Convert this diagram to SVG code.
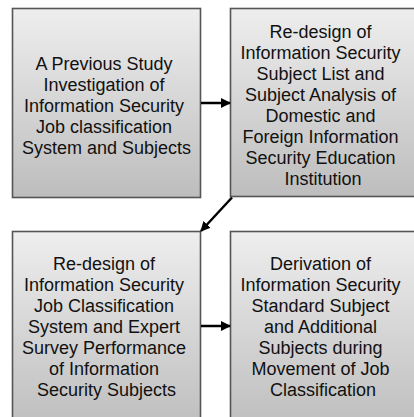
<svg xmlns="http://www.w3.org/2000/svg" width="414" height="417" viewBox="0 0 414 417">
  <defs>
    <linearGradient id="g" x1="0" y1="0" x2="0" y2="1">
      <stop offset="0" stop-color="#eeeeee"/>
      <stop offset="1" stop-color="#bdbdbd"/>
    </linearGradient>
    <marker id="ah" viewBox="0 0 10 10" refX="9" refY="5" markerWidth="4" markerHeight="4" orient="auto" markerUnits="strokeWidth">
      <path d="M0,0 L10,5 L0,10 z" fill="#000"/>
    </marker>
  </defs>
  <style>
    .box { fill: url(#g); stroke: #555; stroke-width: 1.6; }
    .t { font-family: "Liberation Sans", Arial, sans-serif; font-size: 18px; fill: #111; text-anchor: middle; }
    .c { stroke: #000; stroke-width: 2.5; fill: none; marker-end: url(#ah); }
  </style>
  <rect width="414" height="417" fill="#fff"/>
  <g id="node1">
    <rect class="box" x="12.5" y="8.5" width="188" height="189"/>
    <text class="t" x="106.5">
      <tspan x="106.5" y="69.5">A Previous Study</tspan>
      <tspan x="106.5" y="90.5">Investigation of</tspan>
      <tspan x="106.5" y="111.5">Information Security</tspan>
      <tspan x="106.5" y="132.5">Job classification</tspan>
      <tspan x="106.5" y="153.5">System and Subjects</tspan>
    </text>
  </g>
  <g id="node2">
    <rect class="box" x="230.5" y="8.5" width="190" height="188"/>
    <text class="t" x="323">
      <tspan x="323" y="38">Re-design of</tspan>
      <tspan x="323" y="59">Information Security</tspan>
      <tspan x="323" y="80">Subject List and</tspan>
      <tspan x="323" y="101">Subject Analysis of</tspan>
      <tspan x="323" y="122">Domestic and</tspan>
      <tspan x="323" y="143">Foreign Information</tspan>
      <tspan x="323" y="164">Security Education</tspan>
      <tspan x="323" y="185">Institution</tspan>
    </text>
  </g>
  <g id="node3">
    <rect class="box" x="12.5" y="231.5" width="188" height="200"/>
    <text class="t" x="106.5">
      <tspan x="106.5" y="269.5">Re-design of</tspan>
      <tspan x="106.5" y="290.6">Information Security</tspan>
      <tspan x="106.5" y="311.7">Job Classification</tspan>
      <tspan x="106.5" y="332.8">System and Expert</tspan>
      <tspan x="106.5" y="353.9">Survey Performance</tspan>
      <tspan x="106.5" y="375">of Information</tspan>
      <tspan x="106.5" y="396.1">Security Subjects</tspan>
    </text>
  </g>
  <g id="node4">
    <rect class="box" x="230.5" y="231.5" width="190" height="200"/>
    <text class="t" x="323">
      <tspan x="323" y="269.5">Derivation of</tspan>
      <tspan x="323" y="290.6">Information Security</tspan>
      <tspan x="323" y="311.7">Standard Subject</tspan>
      <tspan x="323" y="332.8">and Additional</tspan>
      <tspan x="323" y="353.9">Subjects during</tspan>
      <tspan x="323" y="375">Movement of Job</tspan>
      <tspan x="323" y="396.1">Classification</tspan>
    </text>
  </g>
  <g id="connectors">
    <line class="c" x1="201" y1="103" x2="230" y2="103"/>
    <line class="c" x1="232" y1="197.5" x2="201" y2="231"/>
    <line class="c" x1="201" y1="326" x2="230" y2="326"/>
  </g>
</svg>
